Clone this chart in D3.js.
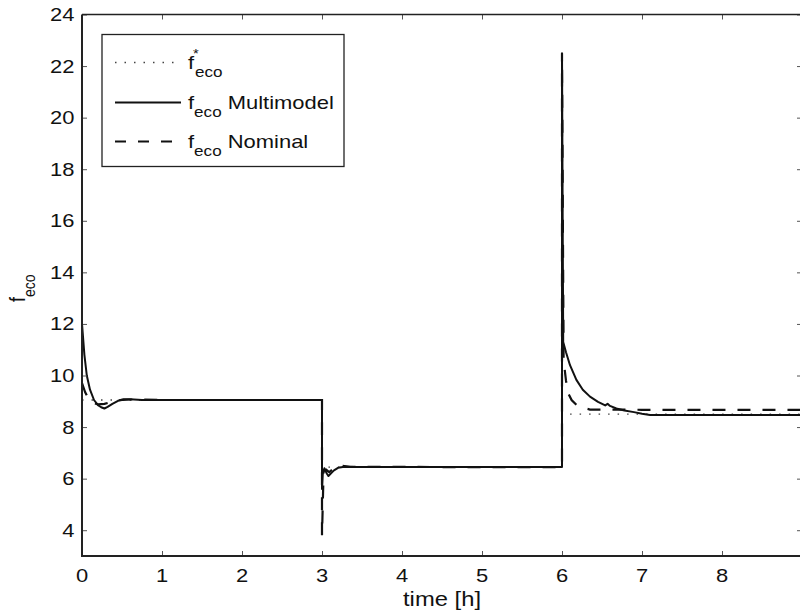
<!DOCTYPE html>
<html>
<head>
<meta charset="utf-8">
<script src="https://cdn.jsdelivr.net/npm/d3@7"></script>
<style>
  html, body { margin: 0; padding: 0; background: #fff; }
  svg text { font-family: "Liberation Sans", Arial, Helvetica, sans-serif; fill: #111; }
</style>
</head>
<body>
<svg id="chart" width="800" height="612"></svg>
<script>
// ---- data ----
const xTicks = [0, 1, 2, 3, 4, 5, 6, 7, 8];
const yTicks = [4, 6, 8, 10, 12, 14, 16, 18, 20, 22, 24];

const tRef = [0, 3, 3, 6, 6, 9];
const fRef = [9.05, 9.05, 6.45, 6.45, 8.5, 8.5];

const tMulti = [0, 0.03, 0.06, 0.1, 0.15, 0.2, 0.24, 0.28, 0.32, 0.38, 0.45, 0.52, 0.6, 0.75, 1.0, 2.0, 3.0,
  3.0, 3.01, 3.03, 3.06, 3.08, 3.11, 3.15, 3.2, 3.28, 3.4, 4.5, 6.0,
  6.0, 6.015, 6.05, 6.1, 6.18, 6.26, 6.35, 6.45, 6.54, 6.57, 6.6, 6.68, 6.78, 6.9, 7.0, 7.1, 8.0, 9.0];
const fMulti = [12.0, 10.8, 10.0, 9.45, 9.05, 8.85, 8.77, 8.72, 8.78, 8.9, 9.02, 9.08, 9.08, 9.05, 9.05, 9.05, 9.05,
  5.6, 6.2, 6.4, 6.2, 6.1, 6.2, 6.32, 6.42, 6.46, 6.45, 6.45, 6.45,
  22.5, 11.3, 10.9, 10.4, 9.83, 9.45, 9.18, 8.98, 8.84, 8.9, 8.82, 8.72, 8.64, 8.58, 8.52, 8.47, 8.47, 8.47];

const tNom = [0, 0.04, 0.08, 0.13, 0.2, 0.28, 0.36, 0.45, 0.6, 1.0, 3.0,
  3.0, 3.02, 3.05, 3.09, 3.13, 3.18, 3.24, 3.35, 4.5, 6.0,
  6.0, 6.02, 6.05, 6.08, 6.12, 6.18, 6.26, 6.35, 7.0, 9.0];
const fNom = [9.7, 9.35, 9.1, 8.95, 8.88, 8.9, 8.97, 9.04, 9.07, 9.05, 9.05,
  3.8, 6.3, 6.35, 6.25, 6.35, 6.48, 6.5, 6.46, 6.45, 6.45,
  22.5, 10.6, 9.8, 9.3, 9.05, 8.86, 8.75, 8.68, 8.67, 8.67];

const legendSuffixes = ["", " Multimodel", " Nominal"];

// ---- layout ----
const svg = d3.select("#chart");
const pL = 82, pR = 802, pT = 14.5, pB = 556;
const SX = 1.22; // horizontal text stretch of the original figure

const x = d3.scaleLinear().domain([0, 9]).range([pL, pR]);
const y = d3.scaleLinear().domain([3, 24]).range([pB, pT]);

function stext(g, px, py, str, size, anchor) {
  return g.append("text")
    .attr("transform", `translate(${px},${py}) scale(${SX},1)`)
    .attr("text-anchor", anchor || "start")
    .style("font-size", size + "px")
    .text(str);
}

// ---- lines ----
const zip = (ts, vs) => ts.map((t, i) => [t, vs[i]]);
const line = d3.line().x(d => x(d[0])).y(d => y(d[1]));

svg.append("defs").append("clipPath").attr("id", "clip")
  .append("rect").attr("x", pL).attr("y", pT).attr("width", pR - pL).attr("height", pB - pT);

const plot = svg.append("g").attr("clip-path", "url(#clip)");

plot.append("path").datum(zip(tRef, fRef)).attr("d", line)
  .attr("fill", "none").attr("stroke", "#444").attr("stroke-width", 1.3)
  .attr("stroke-dasharray", "1.5,8");

plot.append("path").datum(zip(tNom, fNom)).attr("d", line)
  .attr("fill", "none").attr("stroke", "#111").attr("stroke-width", 2.2)
  .attr("stroke-dasharray", "13,12");

plot.append("path").datum(zip(tMulti, fMulti)).attr("d", line)
  .attr("fill", "none").attr("stroke", "#111").attr("stroke-width", 2)
  .attr("stroke-linejoin", "round");

// ---- axes / frame ----
const axB = svg.append("g").attr("transform", `translate(0,${pB})`)
  .call(d3.axisBottom(x).tickValues(xTicks).tickSize(-5).tickFormat(""));
const axT = svg.append("g").attr("transform", `translate(0,${pT})`)
  .call(d3.axisTop(x).tickValues(xTicks).tickSize(-5).tickFormat(""));
const axL = svg.append("g").attr("transform", `translate(${pL},0)`)
  .call(d3.axisLeft(y).tickValues(yTicks).tickSize(-5).tickFormat(""));
const axR = svg.append("g").attr("transform", `translate(${pR},0)`)
  .call(d3.axisRight(y).tickValues(yTicks).tickSize(-5).tickFormat(""));
[axB, axT, axL, axR].forEach(a => {
  a.select(".domain").remove();
  a.selectAll(".tick line").attr("stroke", "#555").attr("stroke-width", 1);
});

svg.append("line").attr("x1", pL).attr("x2", pR).attr("y1", pT).attr("y2", pT)
  .attr("stroke", "#222").attr("stroke-width", 1.3);
svg.append("line").attr("x1", pR).attr("x2", pR).attr("y1", pT).attr("y2", pB)
  .attr("stroke", "#222").attr("stroke-width", 1.3);
svg.append("line").attr("x1", pL).attr("x2", pR + 1).attr("y1", pB).attr("y2", pB)
  .attr("stroke", "#222").attr("stroke-width", 2);
svg.append("line").attr("x1", pL).attr("x2", pL).attr("y1", pT).attr("y2", pB + 1)
  .attr("stroke", "#222").attr("stroke-width", 2);

// tick labels
const tl = svg.append("g");
xTicks.forEach(v => stext(tl, x(v), 582, String(v), 18, "middle"));
yTicks.forEach(v => stext(tl, 74.5, y(v) + 6.5, String(v), 18, "end"));

// axis titles
stext(svg, x(4.5), 606, "time [h]", 19.5, "middle");

const yl = svg.append("text")
  .attr("transform", `translate(25,302) scale(${SX},1) rotate(-90)`)
  .attr("text-anchor", "start");
yl.append("tspan").style("font-size", "18px").text("f");
yl.append("tspan").attr("dy", 8).style("font-size", "14px").text("eco");

// ---- legend ----
const lg = svg.append("g");
lg.append("rect").attr("x", 102).attr("y", 34.5).attr("width", 242).attr("height", 132)
  .attr("fill", "#fff").attr("stroke", "#222").attr("stroke-width", 1.3);

const rowsY = [62.5, 102.5, 141.5];
const styles = [
  { stroke: "#444", w: 1.3, dash: "1.5,8" },
  { stroke: "#111", w: 2, dash: null },
  { stroke: "#111", w: 2.2, dash: "11,12" }
];
rowsY.forEach((ry, i) => {
  const s = styles[i];
  const l = lg.append("line").attr("x1", 115).attr("x2", 181).attr("y1", ry).attr("y2", ry)
    .attr("stroke", s.stroke).attr("stroke-width", s.w);
  if (s.dash) l.attr("stroke-dasharray", s.dash);
  if (i === 0) {
    stext(lg, 188, ry + 6, "f", 18, "start");
    stext(lg, 193, ry - 5, "*", 12, "start");
    stext(lg, 195, ry + 14, "eco", 14, "start");
  } else {
    const t = lg.append("text")
      .attr("transform", `translate(188,${ry + 6}) scale(${SX},1)`);
    t.append("tspan").style("font-size", "18px").text("f");
    t.append("tspan").attr("dy", 8).style("font-size", "14px").text("eco");
    t.append("tspan").attr("dy", -8).style("font-size", "18px").text(legendSuffixes[i]);
  }
});
</script>
</body>
</html>
